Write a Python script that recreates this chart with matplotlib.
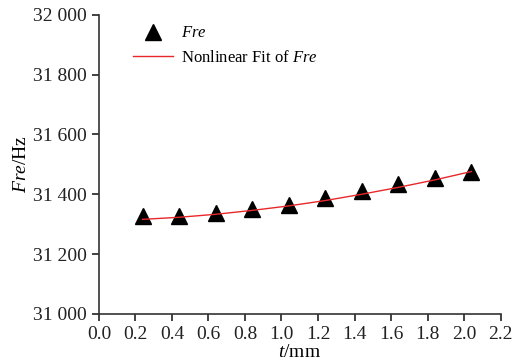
import numpy as np
import matplotlib
matplotlib.use('Agg')
import matplotlib.pyplot as plt
from matplotlib.ticker import FuncFormatter

plt.rcParams['font.family'] = 'Liberation Serif'
plt.rcParams['mathtext.fontset'] = 'custom'
plt.rcParams['mathtext.rm'] = 'Liberation Serif'
plt.rcParams['mathtext.it'] = 'Liberation Serif:italic'

# thickness t (mm) and frequency Fre (Hz)
t = [0.24, 0.44, 0.64, 0.84, 1.04, 1.24, 1.44, 1.64, 1.84, 2.04]
fre = [31326, 31327, 31336, 31349, 31364, 31387, 31410, 31433, 31455, 31476]
fre_fit = [31316, 31323, 31333, 31346, 31361, 31379, 31400, 31423, 31448, 31476]

fig = plt.figure(figsize=(5.15, 3.62), dpi=100)
ax = fig.add_axes([0.192, 0.133, 0.78, 0.826])

ax.plot(t, fre, '^', color='black', markersize=12, label=r'$Fre$', zorder=2)
ax.plot(t, fre_fit, '-', color='#e8282b', lw=1.0, label=r'Nonlinear Fit of $Fre$', zorder=3)

ax.set_xlim(0, 2.2)
ax.set_ylim(31000, 32000)
ax.set_xticks(np.arange(0, 2.21, 0.2))
ax.set_yticks(np.arange(31000, 32001, 200))
ax.xaxis.set_major_formatter(FuncFormatter(lambda v, p: '%.1f' % v))
ax.yaxis.set_major_formatter(FuncFormatter(lambda v, p: '{:,.0f}'.format(v).replace(',', ' ')))

for s in ['top', 'right']:
    ax.spines[s].set_visible(False)
for s in ['left', 'bottom']:
    ax.spines[s].set_linewidth(1.2)
    ax.spines[s].set_color('#333333')
ax.tick_params(direction='out', length=5, width=1.2, labelsize=14, colors='#222222')

ax.set_xlabel(r'$t$/mm', fontsize=14, labelpad=1)
ax.set_ylabel(r'$Fre$/Hz', fontsize=14, labelpad=2)

ax.legend(loc='upper left', bbox_to_anchor=(0.048, 1.015), frameon=False, fontsize=12,
          handlelength=2.4, handletextpad=0.5, labelspacing=0.5, numpoints=1)

fig.savefig('out.png', dpi=100)
